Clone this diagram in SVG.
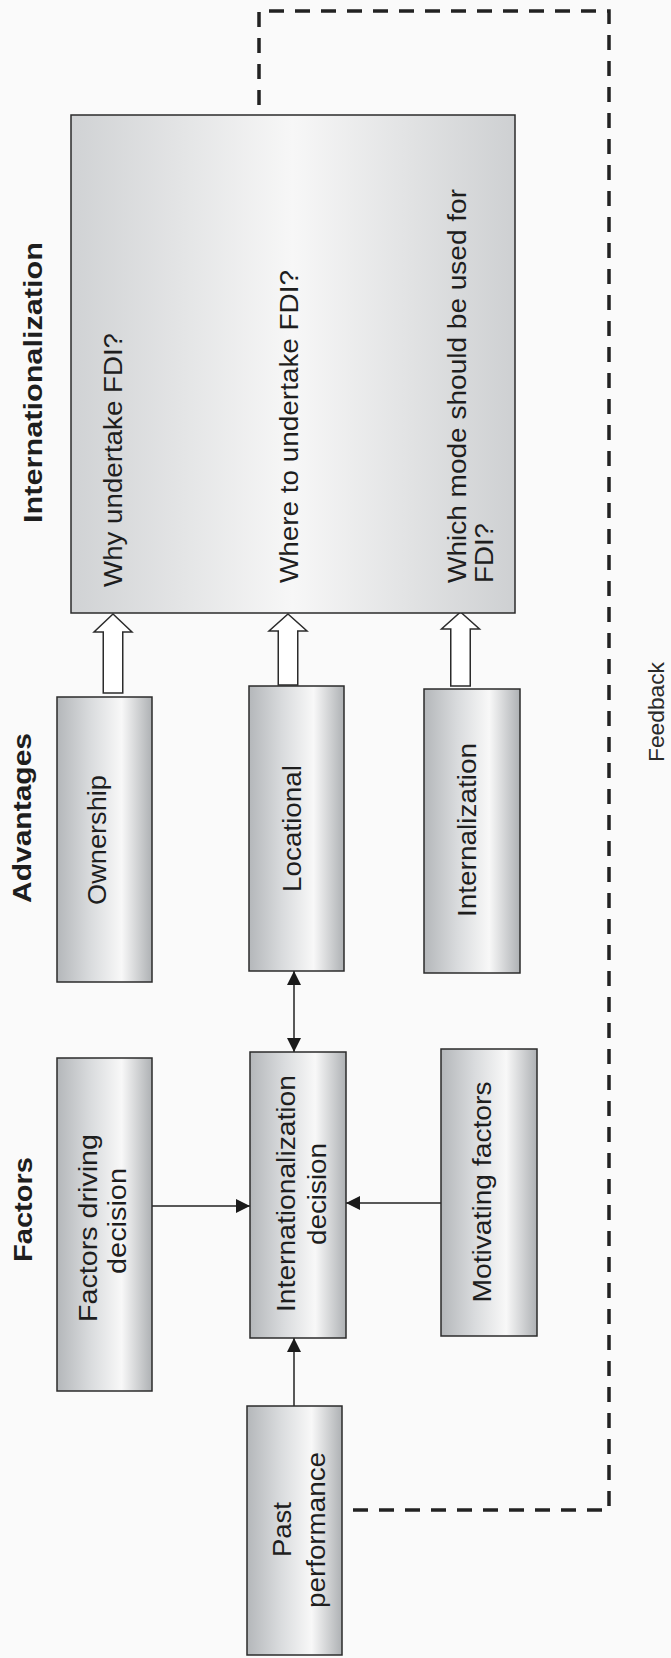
<svg xmlns="http://www.w3.org/2000/svg" width="671" height="1658" viewBox="0 0 671 1658">
<style>
.box{stroke:#2b2b2b;stroke-width:1.5;fill:url(#gSmall)}
.big{stroke:#2b2b2b;stroke-width:1.5;fill:url(#gBig)}
.t{font-family:"Liberation Sans",Arial,sans-serif;font-size:25px;fill:#1e1e1e}
.h{font-family:"Liberation Sans",Arial,sans-serif;font-size:26px;font-weight:bold;fill:#1e1e1e}
.fb{font-family:"Liberation Sans",Arial,sans-serif;font-size:22px;fill:#2a2a2a}
.ln{stroke:#222;stroke-width:1.5;fill:none}
.hollow{stroke:#2b2b2b;stroke-width:1.5;fill:#fff}
.dash{stroke:#222;stroke-width:3.5;fill:none;stroke-dasharray:15 11}
</style>
<defs>
<linearGradient id="gSmall" x1="0" y1="0" x2="1" y2="0">
<stop offset="0" stop-color="#b4b7ba"/>
<stop offset="0.35" stop-color="#d9dbdd"/>
<stop offset="0.68" stop-color="#f8f8f8"/>
<stop offset="1" stop-color="#aeb1b4"/>
</linearGradient>
<linearGradient id="gBig" x1="0" y1="0" x2="1" y2="0">
<stop offset="0" stop-color="#d0d2d4"/>
<stop offset="0.5" stop-color="#f7f7f7"/>
<stop offset="1" stop-color="#ced0d2"/>
</linearGradient>
<marker id="ah" markerUnits="userSpaceOnUse" markerWidth="15" markerHeight="14" refX="14" refY="7" orient="auto-start-reverse">
<path d="M0,0 L14,7 L0,14 z" fill="#1a1a1a"/>
</marker>
</defs>
<rect width="671" height="1658" fill="#fafafa"/>

<g id="titles">
<text class="h" transform="translate(42,382.5) rotate(-90)" text-anchor="middle" textLength="281" lengthAdjust="spacingAndGlyphs">Internationalization</text>
<text class="h" transform="translate(31,818) rotate(-90)" text-anchor="middle" textLength="170" lengthAdjust="spacingAndGlyphs">Advantages</text>
<text class="h" transform="translate(32,1209.5) rotate(-90)" text-anchor="middle" textLength="105" lengthAdjust="spacingAndGlyphs">Factors</text>
</g>

<g id="connectors">
<path class="dash" d="M353,1510 L609,1510 L609,11 L259,11 L259,115"/>
<line class="ln" x1="294" y1="971" x2="294" y2="1052" marker-start="url(#ah)" marker-end="url(#ah)"/>
<line class="ln" x1="152" y1="1206" x2="250" y2="1206" marker-end="url(#ah)"/>
<line class="ln" x1="441" y1="1203" x2="346" y2="1203" marker-end="url(#ah)"/>
<line class="ln" x1="294" y1="1406" x2="294" y2="1338" marker-end="url(#ah)"/>
<polygon class="hollow" points="113,614 132,632 122.75,632 122.75,693 103.25,693 103.25,632 94,632"/>
<polygon class="hollow" points="288,614 307,631 297.75,631 297.75,685 278.25,685 278.25,631 269,631"/>
<polygon class="hollow" points="460.5,612 479.5,629 470.25,629 470.25,686 450.75,686 450.75,629 441.5,629"/>
</g>

<g id="feedback-label">
<text class="fb" transform="translate(664,712) rotate(-90)" text-anchor="middle" textLength="100" lengthAdjust="spacingAndGlyphs">Feedback</text>
</g>

<g id="internationalization-box">
<rect class="big" x="71" y="115" width="444" height="498"/>
<text class="t" transform="translate(122,587) rotate(-90)" textLength="254" lengthAdjust="spacingAndGlyphs">Why undertake FDI?</text>
<text class="t" transform="translate(298,583) rotate(-90)" textLength="313" lengthAdjust="spacingAndGlyphs">Where to undertake FDI?</text>
<text class="t" transform="translate(466,583) rotate(-90)" textLength="394" lengthAdjust="spacingAndGlyphs">Which mode should be used for</text>
<text class="t" transform="translate(493,583) rotate(-90)" textLength="60" lengthAdjust="spacingAndGlyphs">FDI?</text>
</g>

<g id="ownership">
<rect class="box" x="57" y="697" width="95" height="285"/>
<text class="t" transform="translate(106,840) rotate(-90)" text-anchor="middle" textLength="130" lengthAdjust="spacingAndGlyphs">Ownership</text>
</g>

<g id="locational">
<rect class="box" x="249" y="686" width="95" height="285"/>
<text class="t" transform="translate(301,828.5) rotate(-90)" text-anchor="middle" textLength="127" lengthAdjust="spacingAndGlyphs">Locational</text>
</g>

<g id="internalization">
<rect class="box" x="424" y="689" width="96" height="284"/>
<text class="t" transform="translate(476,830) rotate(-90)" text-anchor="middle" textLength="174" lengthAdjust="spacingAndGlyphs">Internalization</text>
</g>

<g id="factors-driving-decision">
<rect class="box" x="57" y="1058" width="95" height="333"/>
<text class="t" transform="translate(97,1228) rotate(-90)" text-anchor="middle" textLength="188" lengthAdjust="spacingAndGlyphs">Factors driving</text>
<text class="t" transform="translate(126,1221) rotate(-90)" text-anchor="middle" textLength="106" lengthAdjust="spacingAndGlyphs">decision</text>
</g>

<g id="internationalization-decision">
<rect class="box" x="250" y="1052" width="96" height="286"/>
<text class="t" transform="translate(295,1193.5) rotate(-90)" text-anchor="middle" textLength="237" lengthAdjust="spacingAndGlyphs">Internationalization</text>
<text class="t" transform="translate(326,1194) rotate(-90)" text-anchor="middle" textLength="102" lengthAdjust="spacingAndGlyphs">decision</text>
</g>

<g id="motivating-factors">
<rect class="box" x="441" y="1049" width="96" height="287"/>
<text class="t" transform="translate(491,1192) rotate(-90)" text-anchor="middle" textLength="221" lengthAdjust="spacingAndGlyphs">Motivating factors</text>
</g>

<g id="past-performance">
<rect class="box" x="247" y="1406" width="95" height="249"/>
<text class="t" transform="translate(291,1529.5) rotate(-90)" text-anchor="middle" textLength="55" lengthAdjust="spacingAndGlyphs">Past</text>
<text class="t" transform="translate(325,1530) rotate(-90)" text-anchor="middle" textLength="156" lengthAdjust="spacingAndGlyphs">performance</text>
</g>
</svg>
